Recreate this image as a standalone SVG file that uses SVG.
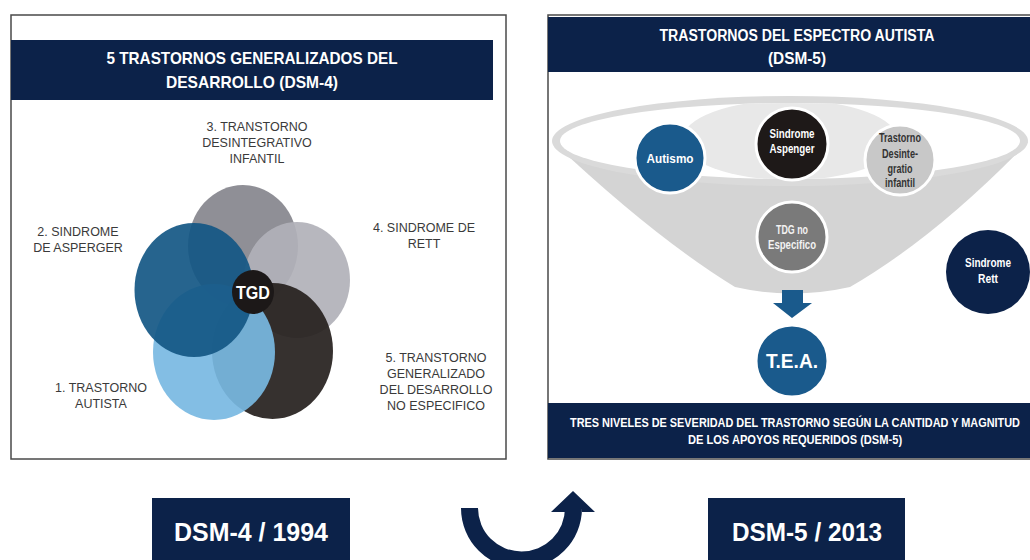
<svg xmlns="http://www.w3.org/2000/svg" width="1030" height="560" viewBox="0 0 1030 560">
<defs>
<style>
.panel{fill:#fff;stroke:#4a4a4a;stroke-width:1.5}
.bar{fill:#0c2249}
.hd{font-family:"Liberation Sans",Arial,sans-serif;font-weight:bold;fill:#fff;text-anchor:middle}
.lbl{font-family:"Liberation Sans",Arial,sans-serif;font-size:12.5px;fill:#3a3a3a;text-anchor:middle}
.ct{font-family:"Liberation Sans",Arial,sans-serif;font-weight:bold;text-anchor:middle;font-size:12px}
.node{stroke:#fff;stroke-width:3}
.venn{opacity:0.92}
</style>
<clipPath id="inner"><ellipse cx="790" cy="141" rx="230" ry="38"/></clipPath>
</defs>
<rect width="1030" height="560" fill="#fff"/>

<!-- Left panel -->
<g id="panel-dsm4">
<rect class="panel" x="11" y="15" width="495" height="444"/>
<rect class="bar" x="11" y="40" width="482" height="60"/>
<text class="hd" x="252" y="64" font-size="17" textLength="291" lengthAdjust="spacingAndGlyphs">5 TRASTORNOS GENERALIZADOS DEL</text>
<text class="hd" x="252" y="88" font-size="17" textLength="172" lengthAdjust="spacingAndGlyphs">DESARROLLO (DSM-4)</text>
</g>

<g id="venn">
<ellipse id="c3" class="venn" cx="243" cy="246" rx="55" ry="61" fill="#86868d"/>
<ellipse id="c4" class="venn" cx="297" cy="280" rx="53" ry="58" fill="#b1b1b9"/>
<ellipse id="c5" class="venn" cx="272.5" cy="351" rx="60.5" ry="68" fill="#25201d"/>
<ellipse id="c1" class="venn" cx="214" cy="352" rx="61" ry="68" fill="#78b8e2"/>
<ellipse id="c2" class="venn" cx="194" cy="290" rx="59.5" ry="67" fill="#135784"/>
<g id="tgd">
<ellipse cx="253" cy="292" rx="21" ry="22" fill="#1c1818"/>
<text class="hd" x="253" y="299" font-size="18" textLength="34" lengthAdjust="spacingAndGlyphs">TGD</text>
</g>
</g>

<g id="labels-dsm4" class="lbl">
<text x="257" y="131">3. TRANSTORNO</text>
<text x="257" y="147">DESINTEGRATIVO</text>
<text x="257" y="163">INFANTIL</text>
<text x="78" y="236">2. SINDROME</text>
<text x="78" y="252">DE ASPERGER</text>
<text x="424" y="232">4. SINDROME DE</text>
<text x="424" y="248">RETT</text>
<text x="436" y="362">5. TRANSTORNO</text>
<text x="436" y="378">GENERALIZADO</text>
<text x="436" y="394">DEL DESARROLLO</text>
<text x="436" y="410">NO ESPECIFICO</text>
<text x="101" y="392">1. TRASTORNO</text>
<text x="101" y="408">AUTISTA</text>
</g>

<!-- Right panel -->
<g id="panel-dsm5">
<rect class="panel" x="548" y="15" width="490" height="444"/>
<rect class="bar" x="548" y="17" width="482" height="55"/>
<text class="hd" x="797" y="41" font-size="16" textLength="275" lengthAdjust="spacingAndGlyphs">TRASTORNOS DEL ESPECTRO AUTISTA</text>
<text class="hd" x="797" y="64" font-size="16" textLength="58" lengthAdjust="spacingAndGlyphs">(DSM-5)</text>
<rect class="bar" x="548" y="403" width="482" height="55"/>
<text class="hd" transform="translate(795 427) scale(0.83 1)" x="0" y="0" font-size="12.5" textLength="542" lengthAdjust="spacingAndGlyphs">TRES NIVELES DE SEVERIDAD DEL TRASTORNO SEGÚN LA CANTIDAD Y MAGNITUD</text>
<text class="hd" transform="translate(795 444) scale(0.83 1)" x="0" y="0" font-size="12.5" textLength="258" lengthAdjust="spacingAndGlyphs">DE LOS APOYOS REQUERIDOS (DSM-5)</text>
</g>

<g id="funnel">
<path d="M 553 142 Q 655 238 735 287 Q 792 300 850 287 Q 935 238 1028 142 Z" fill="#d4d4d4"/>
<ellipse cx="790" cy="141" rx="238" ry="45" fill="#dadada"/>
<ellipse cx="790" cy="141" rx="230" ry="38" fill="#fff"/>
<ellipse cx="790" cy="140" rx="108" ry="40" fill="#e8e8e8" clip-path="url(#inner)"/>
</g>

<g id="n-autismo">
<circle class="node" cx="670" cy="158" r="35" fill="#1a5a8c"/>
<text class="ct" x="670" y="163" fill="#fff" font-size="14" textLength="47" lengthAdjust="spacingAndGlyphs">Autismo</text>
</g>
<g id="n-asperger">
<circle class="node" cx="792" cy="144" r="36" fill="#1e1918"/>
<text class="ct" x="792" y="138" fill="#fff" textLength="45" lengthAdjust="spacingAndGlyphs">Sindrome</text>
<text class="ct" x="792" y="153" fill="#fff" textLength="45" lengthAdjust="spacingAndGlyphs">Aspenger</text>
</g>
<g id="n-desintegrativo">
<circle class="node" cx="900" cy="160" r="35" fill="#c8c8c8"/>
<text class="ct" x="900" y="142" fill="#333" font-size="11.5" textLength="42" lengthAdjust="spacingAndGlyphs">Trastorno</text>
<text class="ct" x="900" y="158" fill="#333" font-size="11.5" textLength="36" lengthAdjust="spacingAndGlyphs">Desinte-</text>
<text class="ct" x="900" y="173" fill="#333" font-size="11.5" textLength="25" lengthAdjust="spacingAndGlyphs">gratio</text>
<text class="ct" x="900" y="187" fill="#333" font-size="11.5" textLength="30" lengthAdjust="spacingAndGlyphs">infantil</text>
</g>
<g id="n-tdg">
<circle class="node" cx="792" cy="237" r="35" fill="#7a7a7a"/>
<text class="ct" x="792" y="234" fill="#f2f2f2" font-size="11.5" textLength="32" lengthAdjust="spacingAndGlyphs">TDG no</text>
<text class="ct" x="792" y="249" fill="#f2f2f2" font-size="11.5" textLength="48" lengthAdjust="spacingAndGlyphs">Especifico</text>
</g>
<g id="n-rett">
<circle cx="988" cy="272" r="42" fill="#0c2249"/>
<text class="ct" x="988" y="267" fill="#fff" font-size="11.5" textLength="46" lengthAdjust="spacingAndGlyphs">Sindrome</text>
<text class="ct" x="988" y="283" fill="#fff" font-size="11.5" textLength="20" lengthAdjust="spacingAndGlyphs">Rett</text>
</g>
<g id="n-tea">
<circle class="node" cx="792" cy="361" r="36" fill="#1a5a8c"/>
<text class="hd" x="792" y="368" font-size="21" textLength="52" lengthAdjust="spacingAndGlyphs">T.E.A.</text>
</g>

<g id="connectors">
<path d="M 782 290 L 803 290 L 803 303 L 812 303 L 792 318 L 773 303 L 782 303 Z" fill="#1a5a8c"/>
<path d="M 461 508 A 60.5 60.5 0 0 0 582 508 L 582 512 L 595 512 L 573 491 L 551 512 L 565 512 L 565 508 A 43.5 43.5 0 0 1 478 508 Z" fill="#0c2249"/>
</g>

<g id="year-dsm4">
<rect class="bar" x="152" y="498" width="198" height="62"/>
<text class="hd" x="251" y="541" font-size="26" textLength="154" lengthAdjust="spacingAndGlyphs">DSM-4 / 1994</text>
</g>
<g id="year-dsm5">
<rect class="bar" x="708" y="498" width="197" height="62"/>
<text class="hd" x="807" y="541" font-size="26" textLength="150" lengthAdjust="spacingAndGlyphs">DSM-5 / 2013</text>
</g>
</svg>
